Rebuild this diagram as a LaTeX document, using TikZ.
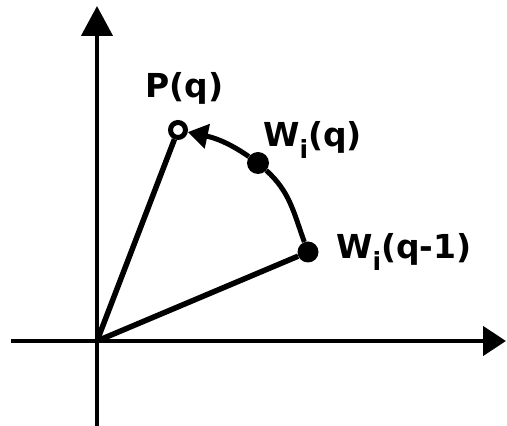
\documentclass[tikz,border=0pt]{standalone}
\usepackage{fontspec}
\newfontfamily\lblfont{DejaVu Sans}
\usetikzlibrary{arrows.meta, positioning}
\newcommand{\lowi}{\raisebox{-12pt}{\fontsize{25}{25}\selectfont i}}
\tikzset{
  xaxis/.style={line width=4.5pt, -{Triangle[length=23pt,width=29pt]}},
  yaxis/.style={line width=4.5pt, -{Triangle[length=30pt,width=31pt]}},
  ray/.style={line width=5.5pt},
  turn/.style={line width=5pt, -{Triangle[length=20pt,width=24pt]}},
  dot/.style={circle, fill=black, inner sep=0pt, minimum size=22pt},
  hollow/.style={circle, draw=black, line width=5pt, fill=white, inner sep=0pt, minimum size=15pt},
  lbl/.style={font=\lblfont\fontsize{33}{36}\selectfont\bfseries, inner sep=0pt, anchor=base west}
}

\begin{document}
\begin{tikzpicture}[x=1pt, y=1pt]
\useasboundingbox (0,0) rectangle (507,426);
\coordinate (origin) at (97,85);
\coordinate (xstart) at (11,85);
\coordinate (xend)   at (506,85);
\coordinate (ystart) at (97,0);
\coordinate (yend)   at (97,420);

\node (pq)     [hollow] at (178,296) {};
\node (wq)     [dot]    at (258,263) {};
\node (wqprev) [dot, minimum size=21pt] at (308,174) {};

\node (pqlab)     [lbl] at (145,328) {P(q)};
\node (wqlab)     [lbl] at (263,279) {W\lowi(q)};
\node (wqprevlab) [lbl] at (336,167) {W\lowi(q-1)};

\draw [xaxis] (xstart) -- (xend);
\draw [yaxis] (ystart) -- (yend);
\draw [ray] (origin) -- (pq);
\draw [ray] (origin) -- (wqprev);
\draw [turn] (wqprev) to[out=110, in=-42] (wq) to[out=145, in=-12] (pq);
\end{tikzpicture}
\end{document}
